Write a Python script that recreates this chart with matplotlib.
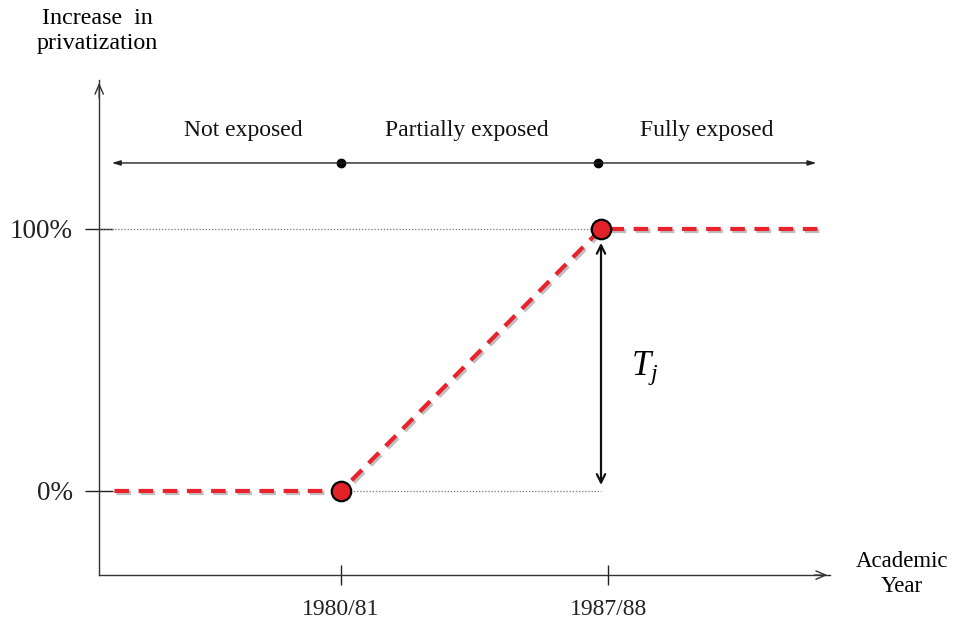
import matplotlib
matplotlib.use("Agg")
from matplotlib import pyplot as plt
import matplotlib.patheffects as pe

plt.rcParams['font.family'] = ['Liberation Serif', 'DejaVu Serif']
plt.rcParams['mathtext.fontset'] = 'custom'
plt.rcParams['mathtext.rm'] = 'Liberation Serif'
plt.rcParams['mathtext.it'] = 'Liberation Serif:italic'

# data: privatization path over academic years
path_years = [1973.9, 1980, 1987, 1993.0]
path_share = [0, 0, 100, 100]
kink_years = [1980, 1987]
kink_share = [0, 100]

tick_pos = [1980, 1987.2]
tick_labels = ["1980/81", "1987/88"]
ytick_pos = [0, 100]
ytick_labels = ["0%", "100%"]

phase_names = ["Not exposed", "Partially exposed", "Fully exposed"]
phase_centers = [1977.36, 1983.4, 1989.85]
phase_bounds = [1973.83, 1980, 1986.93, 1992.8]

# axis limits chosen so the figure canvas holds the whole diagram
x_axis, y_axis = 1973.49, -32.1
x_end, y_end = 1993.17, 156.9

fig = plt.figure(figsize=(9.55, 6.28), dpi=100)
ax = fig.add_axes([0, 0, 1, 1])
ax.set_xlim(1970.82, 1996.53)
ax.set_ylim(-52.3, 187.4)

# axes through spines
for s in ["top", "right"]:
    ax.spines[s].set_visible(False)
ax.spines["left"].set_position(("data", x_axis))
ax.spines["bottom"].set_position(("data", y_axis))
ax.spines["left"].set_bounds(y_axis, y_end)
ax.spines["bottom"].set_bounds(x_axis, x_end)
for s in ["left", "bottom"]:
    ax.spines[s].set_linewidth(1.0)
    ax.spines[s].set_color("#333333")
ax.annotate("", xy=(x_axis, y_end), xytext=(x_axis, y_end - 8),
            arrowprops=dict(arrowstyle="->,head_length=0.7,head_width=0.3", lw=1.0, color="#333333"))
ax.annotate("", xy=(x_end, y_axis), xytext=(x_end - 0.5, y_axis),
            arrowprops=dict(arrowstyle="->,head_length=0.7,head_width=0.3", lw=1.0, color="#333333"))

ax.set_xticks(tick_pos)
ax.set_xticklabels(tick_labels, fontsize=17)
ax.set_yticks(ytick_pos)
ax.set_yticklabels(ytick_labels, fontsize=19.5)
ax.tick_params(axis="x", direction="inout", length=14.5, width=1.0, pad=10, colors="#222222")
ax.tick_params(axis="y", direction="inout", length=20, width=1.0, pad=9, colors="#222222")

# dotted guides
ax.plot([x_axis, kink_years[1]], [100, 100], ls=(0, (1, 1.5)), lw=0.9, color="#777777")
ax.plot([kink_years[0], kink_years[1]], [0, 0], ls=(0, (1, 1.5)), lw=0.9, color="#777777")

# red privatization path
ax.plot(path_years, path_share, color="#e8232b", lw=3, dashes=(3.5, 2.3),
        path_effects=[pe.SimpleLineShadow(offset=(1.5, -1.5), alpha=0.25), pe.Normal()],
        zorder=3)
ax.plot(kink_years, kink_share, "o", ms=14, mfc="#e32128", mec="black", mew=1.6, zorder=4)

# exposure arrow
ax.annotate("", xy=(phase_bounds[0], 125.2), xytext=(phase_bounds[-1], 125.2),
            arrowprops=dict(arrowstyle="<|-|>,head_length=0.5,head_width=0.15", lw=1.0,
                            color="#222222", shrinkA=0, shrinkB=0))
ax.plot(phase_bounds[1:3], [125.2, 125.2], "o", ms=6, color="black")
for name, c in zip(phase_names, phase_centers):
    ax.text(c, 137.4, name, fontsize=17, ha="center", va="center", color="#111111")

# T_j arrow
ax.annotate("", xy=(1987, 94.7), xytext=(1987, 2.3),
            arrowprops=dict(arrowstyle="<->,head_length=0.6,head_width=0.3", lw=1.6,
                            color="#111111", shrinkA=0, shrinkB=0))
ax.text(1988.18, 47, r"$T_j$", fontsize=25, ha="center", va="center")

# axis titles
ax.text(1973.45, 175.6, "Increase  in\nprivatization", fontsize=17.3, ha="center", va="center",
        linespacing=1.2)
ax.text(1995.1, -31.7, "Academic\nYear", fontsize=16.5, ha="center", va="center",
        linespacing=1.2)

fig.savefig("out.png", dpi=100)
